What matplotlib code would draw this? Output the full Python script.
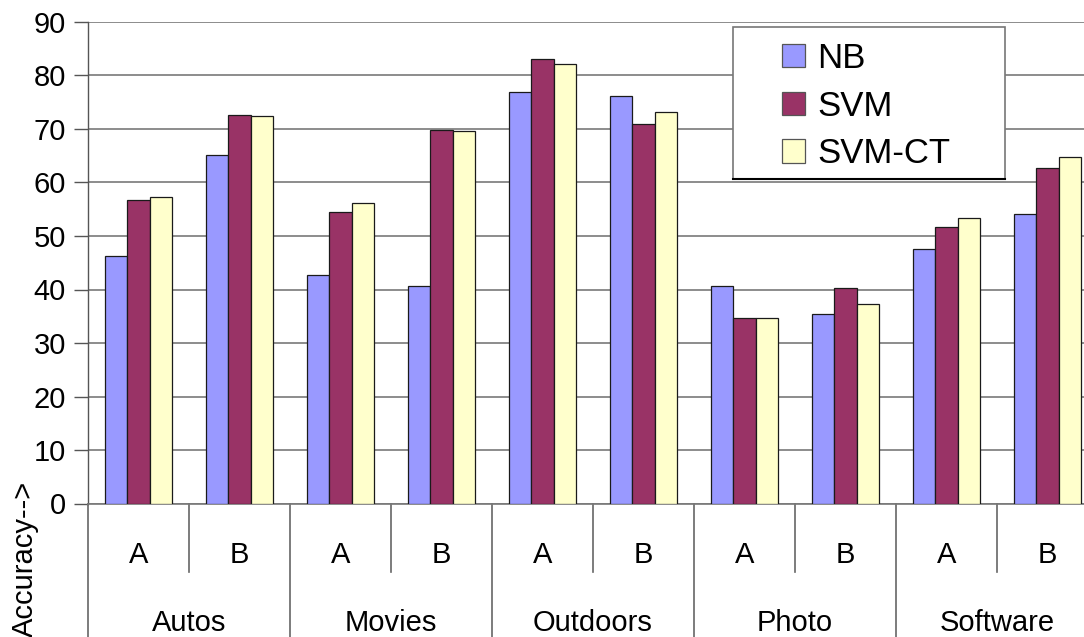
import numpy as np
import matplotlib
matplotlib.use("Agg")
import matplotlib.pyplot as plt
from matplotlib.patches import Rectangle, Patch

plt.rcParams['font.family'] = ['Liberation Sans', 'DejaVu Sans']

groups = ['Autos', 'Movies', 'Outdoors', 'Photo', 'Software']
subsets = ['A', 'B']
series = ['NB', 'SVM', 'SVM-CT']

nb = [46.2, 65.1, 42.8, 40.6, 76.9, 76.2, 40.6, 35.4, 47.5, 54.1]
svm = [56.8, 72.7, 54.5, 69.9, 83.1, 71.0, 34.7, 40.2, 51.6, 62.7]
svm_ct = [57.3, 72.4, 56.2, 69.7, 82.1, 73.2, 34.7, 37.2, 53.4, 64.8]

colors = ['#9999FF', '#993366', '#FFFFCC']

W, H = 1084, 637
fig = plt.figure(figsize=(W / 100, H / 100), dpi=100)
ax = fig.add_axes([88 / W, (H - 503.5) / H, 1010 / W, 481.5 / H])

n = len(nb)
x = np.arange(n)
bw = 0.223
for k, (vals, c) in enumerate(zip([nb, svm, svm_ct], colors)):
    ax.bar(x + (k - 1) * bw, vals, width=bw, color=c, edgecolor='#1a1a1a',
           linewidth=0.9, zorder=3)

ax.set_xlim(-0.5, n - 0.5)
ax.set_ylim(0, 90)
ax.set_yticks(np.arange(0, 91, 10))
ax.yaxis.grid(True, color='#8c8c8c', linewidth=1.4, zorder=0)
ax.set_axisbelow(True)
ax.tick_params(axis='y', labelsize=21, length=10, width=1, color='#555555', pad=6)
ax.set_xticks([])
for s in ['top', 'right']:
    ax.spines[s].set_visible(False)
ax.spines['left'].set_color('#555555')
ax.spines['bottom'].set_color('#777777')
ax.spines['left'].set_linewidth(1)
ax.spines['bottom'].set_linewidth(1.2)

# two-level category axis under the plot
trans = ax.get_xaxis_transform()
for i in range(n):
    ax.text(x[i], -0.107, subsets[i % 2], transform=trans, ha='center',
            va='center', fontsize=21)
for g, name in enumerate(groups):
    ax.text(2 * g + 0.5, -0.248, name, transform=trans, ha='center',
            va='center', fontsize=21)
for b in range(n + 1):
    bottom = -0.3 if b % 2 == 0 else -0.142
    ax.plot([b - 0.5, b - 0.5], [0, bottom], transform=trans, color='#666666',
            linewidth=1.2, clip_on=False)

fig.text(25 / W, 0.0, 'Accuracy-->', rotation=90, ha='center', va='bottom',
         fontsize=21)

# legend
handles = [Patch(facecolor=c, edgecolor='#555555', linewidth=0.9) for c in colors]
leg = fig.legend(handles, series, loc='center left',
                 bbox_to_anchor=(782 / W, 1 - 106 / H), frameon=False,
                 fontsize=25, handlelength=0.66, handleheight=0.66,
                 handletextpad=0.35, labelspacing=0.42, borderpad=0,
                 borderaxespad=0)
fig.patches.append(Rectangle((733 / W, 1 - 179 / H), 272 / W, 152 / H,
                             transform=fig.transFigure, facecolor='white',
                             edgecolor='#777777', linewidth=1.2, zorder=4))
fig.add_artist(plt.Line2D([733 / W, 1005 / W], [1 - 179 / H, 1 - 179 / H],
                          transform=fig.transFigure, color='black', linewidth=1.5,
                          zorder=5))
leg.set_zorder(6)

fig.savefig('out.png', dpi=100)
